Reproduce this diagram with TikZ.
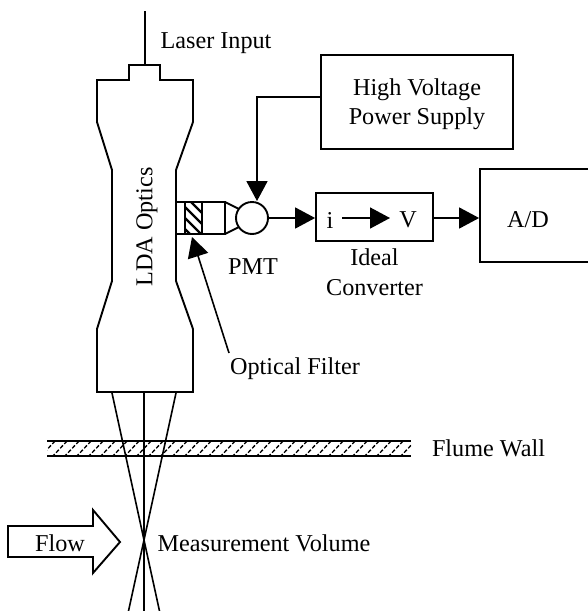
\documentclass[tikz,border=0pt]{standalone}
\usepackage{fontspec}
\setmainfont{Liberation Serif}
\usetikzlibrary{positioning}
\usetikzlibrary{arrows.meta}
\tikzset{bigtip/.tip={Triangle[length=20pt,width=21pt]}}
\tikzset{unit/.style={draw,line width=1.8pt,inner sep=0pt,align=center}}
\tikzset{wire/.style={line width=1.6pt}}
\tikzset{outline/.style={line width=1.9pt,line join=miter}}
\tikzset{lbl/.style={inner sep=0pt,align=center}}

\begin{document}
\begin{tikzpicture}[x=1pt,y=-1pt,font=\fontsize{24.2}{28}\selectfont]
    \useasboundingbox (0,0) rectangle (587,611);

    \draw[outline] (97,122) -- (97,80) -- (129,80) -- (129,65) -- (160,65) -- (160,80) -- (193,80) -- (193,122)
        -- (176,170) -- (176,281) -- (193,329) -- (193,392) -- (97,392) -- (97,329) -- (112,281) -- (112,170) -- cycle;
    \node (optics) [lbl,rotate=90] at (147,227) {LDA Optics};
    \coordinate (stub) at (145,65);
    \coordinate (fiber) at (145,11);
    \draw[wire] (fiber) -- (stub);
    \node (laser) [lbl] at (216,43) {Laser Input};

    \draw[outline] (176,202) rectangle (225,234);
    \draw[outline] (185,202) rectangle (202,234);
    \begin{scope}
        \clip (185,202) rectangle (202,234);
        \foreach \y in {183,194,...,235} {
            \draw[line width=2.4pt] (183,\y) -- (204,\y+21);
        }
    \end{scope}
    \node (pmt) [circle,draw,line width=1.9pt,minimum size=32pt,inner sep=0pt] at (252,218) {};
    \draw[outline] (225,202) -- (239,209);
    \draw[outline] (225,234) -- (239,227);
    \node (pmtlabel) [lbl] at (253,267) {PMT};

    \node (hv) [unit,minimum width=192pt,minimum height=94pt] at (417,102) {};
    \node (hvlabel) [lbl] at (417,104) {High Voltage\\[1.5pt]Power Supply};
    \node (conv) [unit,minimum width=117pt,minimum height=48pt] at (374.5,217) {};
    \node (ii) [lbl] at (330,220) {i};
    \node (vv) [lbl] at (408,220) {V};
    \node (ideal) [lbl,below=7pt of conv] {Ideal\\[2pt]Converter};
    \node (ad) [draw,line width=1.8pt,minimum width=120pt,minimum height=93pt,inner sep=0pt] at (540,215.5) {};
    \node (adlabel) [lbl] at (528,220) {A/D};

    \coordinate (hvbend) at (257,97);
    \draw[wire,-{bigtip}] (hv.west |- hvbend) -- (hvbend) -- (pmt.north -| hvbend);
    \draw[wire,-{bigtip}] (pmt.east) -- (conv.west |- pmt.east);
    \draw[wire,-{bigtip}] (conv.east |- pmt.east) -- (ad.west |- pmt.east);
    \coordinate (ivtail) at (342,218);
    \coordinate (ivhead) at (390,218);
    \draw[wire,-{bigtip}] (ivtail) -- (ivhead);

    \node (filter) [lbl] at (295,369) {Optical Filter};
    \coordinate (filtertip) at (192,237);
    \coordinate (filtertail) at (229,353);
    \draw[wire,-{bigtip}] (filtertail) -- (filtertip);

    \coordinate (volume) at (144,540);
    \foreach \a/\b in {112/159.5,144/144,176/128.5} {
        \draw[wire] (\a,393) -- (volume) -- (\b,611);
    }

    \begin{scope}
        \clip (47,441) rectangle (411,456);
        \foreach \x in {40,52,...,430} {
            \draw[line width=1.3pt,dash pattern=on 4pt off 2pt] (\x,457) -- (\x+16,440);
        }
    \end{scope}
    \draw[outline] (47,441) -- (411,441);
    \draw[outline] (47,456) -- (411,456);
    \node (wall) [lbl] at (488.5,448) {Flume Wall};

    \draw[outline] (8,526) -- (93,526) -- (93,510) -- (120,542) -- (93,573) -- (93,557) -- (8,557) -- cycle;
    \node (flow) [lbl] at (60,543) {Flow};
    \node (measure) [lbl] at (264,543) {Measurement Volume};
\end{tikzpicture}
\end{document}
